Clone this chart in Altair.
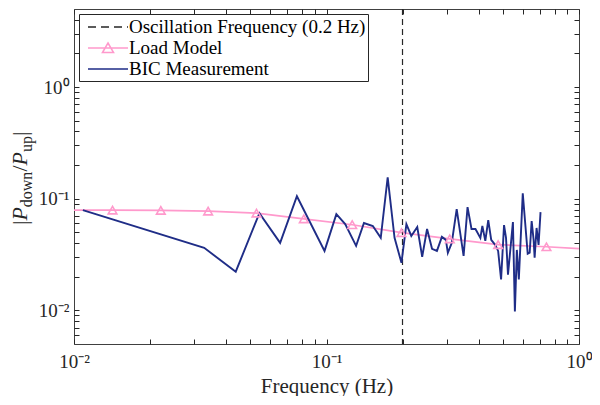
import altair as alt
import pandas as pd

# ---------------- data ----------------
freq_bic = [0.01084, 0.03278, 0.04371, 0.05424, 0.06552, 0.07635, 0.09822, 0.1094,
            0.1186, 0.1310, 0.1407, 0.1526, 0.1640, 0.1747, 0.1860, 0.1981, 0.2072,
            0.2167, 0.2288, 0.2393, 0.2502, 0.2618, 0.2738, 0.2864, 0.2970, 0.3024,
            0.3134, 0.3278, 0.3491, 0.3619, 0.3752, 0.3890, 0.4068, 0.4142, 0.4256,
            0.4371, 0.4491, 0.4656, 0.4783, 0.4914, 0.5048, 0.5140, 0.5233, 0.5474,
            0.5573, 0.5674, 0.5777, 0.5988, 0.6264, 0.6378, 0.6494, 0.6611, 0.6672,
            0.6792, 0.6916, 0.7041]
mag_bic = [0.0790, 0.0363, 0.0222, 0.0743, 0.0402, 0.1052, 0.0341, 0.0728, 0.0593,
           0.0378, 0.0606, 0.0570, 0.0446, 0.1553, 0.0446, 0.0267, 0.0593, 0.0464,
           0.0558, 0.0302, 0.0536, 0.0356, 0.0341, 0.0455, 0.0428, 0.0328, 0.0402,
           0.0806, 0.0308, 0.0840, 0.0536, 0.0536, 0.0446, 0.0570, 0.0419, 0.0644,
           0.0428, 0.0386, 0.0341, 0.0189, 0.0581, 0.0446, 0.0209, 0.0618, 0.0098,
           0.0348, 0.0189, 0.1119, 0.0321, 0.0328, 0.0631, 0.0428, 0.0296, 0.0547,
           0.0386, 0.0759]

freq_model = [0.01, 0.01421, 0.02207, 0.03398, 0.05281, 0.08131, 0.1264, 0.1981,
              0.3077, 0.4783, 0.7431, 1.0]
mag_model = [0.0790, 0.0790, 0.0787, 0.0774, 0.0743, 0.0660, 0.0585, 0.0497,
             0.0437, 0.0388, 0.0371, 0.0357]
marker_index = [1, 2, 3, 4, 5, 6, 7, 8, 9, 10]

osc_freq = [0.2]

series = ["Oscillation Frequency (0.2 Hz)", "Load Model", "BIC Measurement"]
series_colors = ["#262626", "#ff99cc", "#1f2d87"]
series_shapes = ["M-2,0L2,0",
                 "M-2,0L2,0M-0.55,0.45L0,-0.5L0.55,0.45Z",
                 "M-2,0L2,0"]
series_dashes = [[8, 5], [1, 0], [1, 0]]

x_ticks = [0.01, 0.02, 0.03, 0.04, 0.05, 0.06, 0.07, 0.08, 0.09,
           0.1, 0.2, 0.3, 0.4, 0.5, 0.6, 0.7, 0.8, 0.9, 1.0]
y_ticks = [0.006, 0.007, 0.008, 0.009,
           0.01, 0.02, 0.03, 0.04, 0.05, 0.06, 0.07, 0.08, 0.09,
           0.1, 0.2, 0.3, 0.4, 0.5, 0.6, 0.7, 0.8, 0.9,
           1.0, 2.0, 3.0, 4.0]

# ---------------- frames ----------------
bic_df = pd.DataFrame({"f": freq_bic, "m": mag_bic, "i": list(range(len(freq_bic)))})
model_df = pd.DataFrame({"f": freq_model, "m": mag_model, "i": list(range(len(freq_model)))})
marker_df = model_df.iloc[marker_index]
osc_df = pd.DataFrame({"f": osc_freq})
legend_df = pd.DataFrame({"series": series, "f": [0.001] * 3, "m": [0.05] * 3})

FONT = "Liberation Serif"
INK = "#262626"

xs = alt.Scale(type="log", domain=[0.01, 1], nice=False)
ys = alt.Scale(type="log", domain=[0.005, 5], nice=False)

x_label_expr = ("datum.value == 0.01 ? '10⁻²' : datum.value == 0.1 ? '10⁻¹' : "
                "datum.value == 1 ? '10⁰' : ''")
y_label_expr = x_label_expr

x_axis_bottom = alt.Axis(orient="bottom", values=x_ticks, labelExpr=x_label_expr,
                         offset=-5, tickSize=5, domain=False, grid=False,
                         labelPadding=8, labelFlush=False, labelOverlap=False,
                         labelFont=FONT, labelFontSize=19, labelColor=INK,
                         tickColor=INK, title="Frequency (Hz)", titleFont=FONT,
                         titleFontSize=21, titleFontWeight="normal", titleColor=INK,
                         titlePadding=4)
y_axis_left = alt.Axis(orient="left", values=y_ticks, labelExpr=y_label_expr,
                       offset=-5, tickSize=5, domain=False, grid=False,
                       labelPadding=5, labelFlush=False, labelOverlap=False,
                       labelFont=FONT, labelFontSize=19, labelColor=INK,
                       tickColor=INK, title=None)
x_axis_top = alt.Axis(orient="top", values=x_ticks, labels=False, offset=-5,
                      tickSize=5, domain=False, grid=False, tickColor=INK, title=None)
y_axis_right = alt.Axis(orient="right", values=y_ticks, labels=False, offset=-5,
                        tickSize=5, domain=False, grid=False, tickColor=INK, title=None)

# ---------------- layers ----------------
model_line = alt.Chart(model_df).mark_line(color="#ff99cc", strokeWidth=1.6).encode(
    x=alt.X("f:Q", scale=xs, axis=x_axis_bottom),
    y=alt.Y("m:Q", scale=ys, axis=y_axis_left),
    order="i:Q",
)

model_marks = alt.Chart(marker_df).mark_point(
    shape="triangle-up", filled=False, color="#ff99cc", size=75, strokeWidth=1.6, opacity=1
).encode(
    x=alt.X("f:Q", scale=xs, axis=None),
    y=alt.Y("m:Q", scale=ys, axis=None),
)

osc_rule = alt.Chart(osc_df).mark_rule(color=INK, strokeDash=[6, 4], strokeWidth=1.2).encode(
    x=alt.X("f:Q", scale=xs, axis=None),
)

bic_line = alt.Chart(bic_df).mark_line(color="#1f2d87", strokeWidth=1.9).encode(
    x=alt.X("f:Q", scale=xs, axis=x_axis_top),
    y=alt.Y("m:Q", scale=ys, axis=y_axis_right),
    order="i:Q",
)

leg = alt.Legend(title=None, orient="top-left", offset=5, padding=2,
                 strokeColor=INK, fillColor="white", cornerRadius=0,
                 symbolSize=400, symbolStrokeWidth=1.6, symbolOffset=16,
                 labelOffset=10, rowPadding=0, labelFont=FONT, labelFontSize=19,
                 labelColor="black", labelLimit=0, symbolOpacity=1)

legend_layer = alt.Chart(legend_df).mark_point(filled=False, strokeWidth=1.6, clip=True).encode(
    x=alt.X("f:Q", scale=xs, axis=None),
    y=alt.Y("m:Q", scale=ys, axis=None),
    color=alt.Color("series:N", scale=alt.Scale(domain=series, range=series_colors), legend=leg),
    shape=alt.Shape("series:N", scale=alt.Scale(domain=series, range=series_shapes), legend=leg),
    strokeDash=alt.StrokeDash("series:N", scale=alt.Scale(domain=series, range=series_dashes), legend=leg),
)

# y-axis title |P_down / P_up| assembled from text pieces
base_txt = alt.Chart(pd.DataFrame({"k": [0]}))
MAIN_X = -47
SUB_X = -42
pieces = [
    ("|", MAIN_X, 216, 22, "normal"),
    ("P", MAIN_X, 211.6, 22, "italic"),
    ("down", SUB_X, 198.2, 16, "normal"),
    ("/", MAIN_X, 162.6, 22, "normal"),
    ("P", MAIN_X, 156.5, 22, "italic"),
    ("up", SUB_X, 143.1, 16, "normal"),
    ("|", MAIN_X, 127.1, 22, "normal"),
]
title_layers = [
    base_txt.mark_text(text=t, angle=270, align="left", baseline="alphabetic",
                       font=FONT, fontSize=fs, fontStyle=st, color=INK).encode(
        x=alt.value(px), y=alt.value(py))
    for (t, px, py, fs, st) in pieces
]

chart = alt.layer(
    model_line, osc_rule, bic_line, model_marks, legend_layer, *title_layers
).resolve_axis(
    x="independent", y="independent"
).properties(
    width=584, height=388,
    autosize=alt.AutoSizeParams(type="fit", contains="padding"),
    padding={"left": 0, "top": 0, "right": 0, "bottom": 0},
    background="white",
).configure_view(
    stroke="#404040", strokeWidth=1
)

chart.save("out.html", embed_options={"renderer": "svg", "actions": False})
